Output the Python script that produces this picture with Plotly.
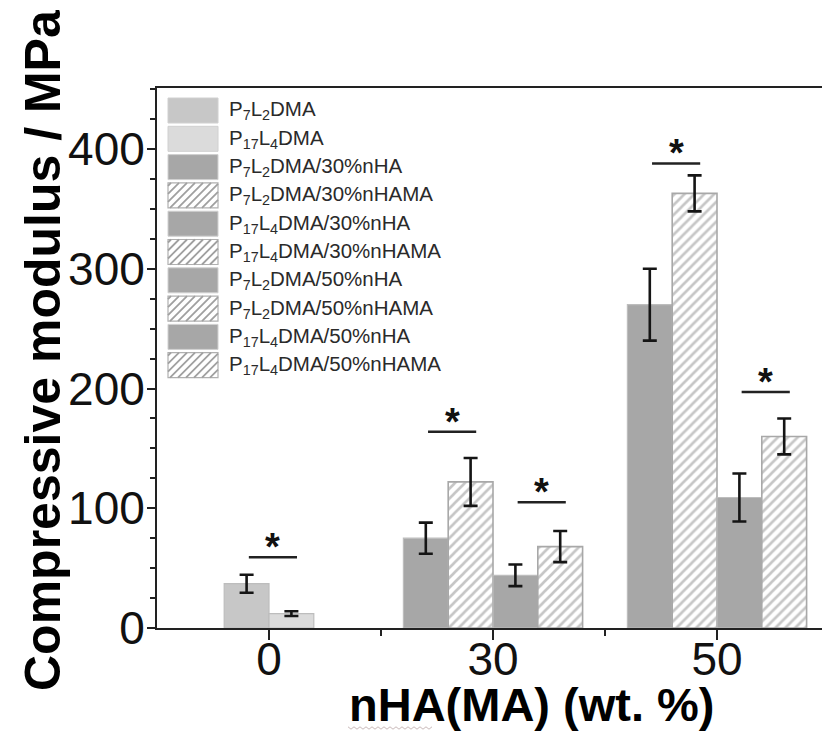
import plotly.graph_objects as go

# ---------------- data ----------------
categories = ["0", "30", "50"]
series_names = [
    "P<sub>7</sub>L<sub>2</sub>DMA",
    "P<sub>17</sub>L<sub>4</sub>DMA",
    "P<sub>7</sub>L<sub>2</sub>DMA/30%nHA",
    "P<sub>7</sub>L<sub>2</sub>DMA/30%nHAMA",
    "P<sub>17</sub>L<sub>4</sub>DMA/30%nHA",
    "P<sub>17</sub>L<sub>4</sub>DMA/30%nHAMA",
    "P<sub>7</sub>L<sub>2</sub>DMA/50%nHA",
    "P<sub>7</sub>L<sub>2</sub>DMA/50%nHAMA",
    "P<sub>17</sub>L<sub>4</sub>DMA/50%nHA",
    "P<sub>17</sub>L<sub>4</sub>DMA/50%nHAMA",
]
series_category = [0, 0, 1, 1, 1, 1, 2, 2, 2, 2]
series_values = [37, 12, 75, 122, 44, 68, 270, 363, 109, 160]
series_errors = [7.5, 2, 13, 20, 9, 13, 30, 15, 20, 15]
series_hatched = [False, False, False, True, False, True, False, True, False, True]
sig_pairs = [(0, 1), (2, 3), (4, 5), (6, 7), (8, 9)]
sig_heights = [59, 164, 105, 388, 197]
y_title = "Compressive modulus / MPa"
x_title = "nHA(MA) (wt. %)"

# ---------------- style ----------------
W, H = 822, 740
ML, MR, MT, MB = 157, 0, 88, 112
PW, PH = W - ML - MR, H - MT - MB
FONT = "Liberation Sans, Arial, sans-serif"
solid_colors = {0: "#c7c7c7", 1: "#dbdbdb"}
dark_fill = "#a7a7a7"
hatch_line = "#8e8e8e"
BW = 0.2
XR = [-0.5, -0.5 + PW / 224.0]
YR = [0, 451]


def px_x(p):
    return (p - ML) / PW


def px_y(p):
    return (H - MB - p) / PH


def fill_of(i):
    return solid_colors.get(i, dark_fill)


# slot positions within each category
centers = []
offsets = []
for i, c in enumerate(series_category):
    members = [j for j, cc in enumerate(series_category) if cc == c]
    k, n = members.index(i), len(members)
    off = (k - n / 2) * BW
    offsets.append(off)
    centers.append(c + off + BW / 2)

fig = go.Figure()
for i, name in enumerate(series_names):
    if series_hatched[i]:
        marker = dict(color="white",
                      line=dict(color="#a8a8a8", width=1.6),
                      pattern=dict(shape="/", fgcolor=hatch_line, bgcolor="white",
                                   size=7, solidity=0.38))
    else:
        marker = dict(color=fill_of(i), line=dict(color="#bdbdbd", width=1.2))
    fig.add_trace(go.Bar(
        x=[series_category[i]], y=[series_values[i]], name=name,
        width=BW, offset=offsets[i], marker=marker, showlegend=False,
        error_y=dict(type="data", array=[series_errors[i]], color="#151515",
                     thickness=2.6, width=7),
    ))

shapes = []
annotations = []

# significance brackets and stars
for (a, b), h in zip(sig_pairs, sig_heights):
    x0 = centers[a] + 0.01
    x1 = centers[b] + 0.025
    shapes.append(dict(type="line", xref="x", yref="y", x0=x0, x1=x1, y0=h, y1=h,
                       line=dict(color="#222", width=2.5)))
    annotations.append(dict(x=(x0 + x1) / 2, y=h, xref="x", yref="y", text="<b>*</b>",
                            showarrow=False, yanchor="middle", yshift=10,
                            font=dict(family=FONT, size=38, color="#111")))

# custom legend (large swatches as in the original)
row_top, pitch, sw_h = 98, 28.3, 25
sx0, sx1 = 168, 218
for i, name in enumerate(series_names):
    y0 = row_top + pitch * i
    y1 = y0 + sw_h
    if series_hatched[i]:
        shapes.append(dict(type="rect", xref="paper", yref="paper",
                           x0=px_x(sx0), x1=px_x(sx1), y0=px_y(y1), y1=px_y(y0),
                           fillcolor="white", line=dict(color="#b0b0b0", width=1.2)))
        segs = []
        d = 8
        c = sx0 + y0 + 3
        while c < sx1 + y1:
            xa = max(sx0, c - y1)
            xb = min(sx1, c - y0)
            if xb - xa > 1:
                segs.append("M%.5f,%.5f L%.5f,%.5f" % (px_x(xa), px_y(c - xa), px_x(xb), px_y(c - xb)))
            c += d
        shapes.append(dict(type="path", xref="paper", yref="paper", path=" ".join(segs),
                           line=dict(color="#a0a0a0", width=1.8)))
    else:
        shapes.append(dict(type="rect", xref="paper", yref="paper",
                           x0=px_x(sx0), x1=px_x(sx1), y0=px_y(y1), y1=px_y(y0),
                           fillcolor=fill_of(i), line=dict(color="#d0d0d0", width=1)))
    annotations.append(dict(x=px_x(227), y=px_y((y0 + y1) / 2), xref="paper", yref="paper",
                            text=name, showarrow=False, xanchor="left", yanchor="middle",
                            font=dict(family=FONT, size=20.5, color="#2a2a2a")))

# axis titles
annotations.append(dict(x=px_x(531), y=px_y(704), xref="paper", yref="paper",
                        text="<b>%s</b>" % x_title, showarrow=False,
                        xanchor="center", yanchor="middle",
                        font=dict(family=FONT, size=47, color="#000")))
annotations.append(dict(x=px_x(43), y=px_y(350), xref="paper", yref="paper",
                        text="<b>%s</b>" % y_title, showarrow=False, textangle=-90,
                        xanchor="center", yanchor="middle",
                        font=dict(family=FONT, size=50, color="#000")))

# spell-check style wavy underline under "nHA"
zz = []
xx = 348
k = 0
while xx <= 432:
    zz.append(("M" if k == 0 else "L") + "%.5f,%.5f" % (px_x(xx), px_y(728 + (1.2 if k % 2 else -1.2))))
    xx += 3
    k += 1
shapes.append(dict(type="path", xref="paper", yref="paper", path=" ".join(zz),
                   line=dict(color="#c9b9b9", width=1)))

fig.update_layout(
    width=W, height=H,
    margin=dict(l=ML, r=MR, t=MT, b=MB, pad=0),
    paper_bgcolor="white", plot_bgcolor="white",
    barmode="overlay",
    font=dict(family=FONT, color="#111"),
    shapes=shapes, annotations=annotations,
    showlegend=False,
    xaxis=dict(
        range=XR, tickvals=[0, 1, 2], ticktext=categories,
        showline=True, linecolor="#222", linewidth=2, mirror=True,
        ticks="outside", ticklen=10, tickwidth=2, tickcolor="#222",
        ticklabelstandoff=-20,
        minor=dict(tickvals=[0.5, 1.5], ticks="outside", ticklen=6, tickwidth=2, tickcolor="#222"),
        showgrid=False, zeroline=False,
        tickfont=dict(family=FONT, size=46, color="#111"),
    ),
    yaxis=dict(
        range=YR, tickvals=[0, 100, 200, 300, 400],
        showline=True, linecolor="#222", linewidth=2,
        ticks="outside", ticklen=8, tickwidth=2, tickcolor="#222",
        ticklabelstandoff=-7,
        minor=dict(dtick=25, ticks="outside", ticklen=5, tickwidth=1.5, tickcolor="#222"),
        showgrid=False, zeroline=False,
        tickfont=dict(family=FONT, size=46, color="#111"),
    ),
)

fig.write_html("out.html")
